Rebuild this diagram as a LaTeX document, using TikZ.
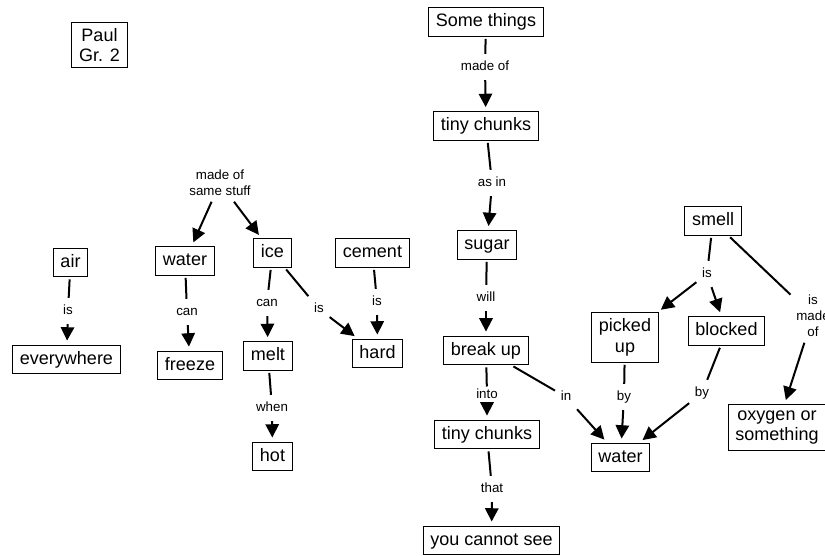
\documentclass[tikz,border=0pt]{standalone}
\usepackage{fontspec}
\setmainfont{Liberation Sans}
\usetikzlibrary{arrows.meta}

\tikzset{every picture/.style={line width=0.75pt}}
\tikzset{
  box/.style={draw, line width=0.8pt, font=\fontsize{13.5}{15.5}\selectfont, inner xsep=5.5pt, inner ysep=4.5pt},
  word/.style={box, text height=9.8pt, text depth=2.8pt},
  boxstack/.style={box, align=center},
  linkbase/.style={font=\fontsize{10}{12}\selectfont, inner xsep=4pt},
  link/.style={linkbase, text height=7pt, text depth=2pt, inner ysep=5pt},
  linkstack/.style={linkbase, align=center, inner ysep=4pt},
  tie/.style={line width=1.5pt, shorten <=1.5pt},
  lead/.style={line width=1.5pt, -{Triangle[length=10pt,width=10pt]}, shorten >=3pt},
}

\begin{document}
\begin{tikzpicture}[x=0.75pt,y=0.75pt,yscale=-1,xscale=1]

\useasboundingbox (0,0) rectangle (825,556);
\clip (0,0) rectangle (825,556);

% concepts
\draw (99.5,45) node [boxstack] (paul) {Paul\\Gr. 2};
\draw (70.5,262.5) node [word] (air) {air};
\draw (66.5,359.5) node [word] (everywhere) {everywhere};
\draw (185,261) node [word] (water) {water};
\draw (190,365.5) node [word] (freeze) {freeze};
\draw (272.5,253) node [word] (ice) {ice};
\draw (268,356) node [word] (melt) {melt};
\draw (272.5,456.5) node [word] (hot) {hot};
\draw (372.5,253) node [word] (cement) {cement};
\draw (377.5,353.5) node [word] (hard) {hard};
\draw (486,22) node [word] (things) {Some things};
\draw (486,126) node [word] (chunks) {tiny chunks};
\draw (487,245) node [word] (sugar) {sugar};
\draw (486,350.5) node [word] (breakup) {break up};
\draw (487,434.5) node [word] (bits) {tiny chunks};
\draw (491.5,540.5) node [word] (unseen) {you cannot see};
\draw (713,221) node [word] (smell) {smell};
\draw (625,337.5) node [boxstack] (pickedup) {picked\\up};
\draw (726.5,331) node [word] (blocked) {blocked};
\draw (620.5,457.5) node [word] (liquid) {water};
\draw (777,427.5) node [boxstack] (oxygen) {oxygen or\\something};

% linking words
\draw (220,183) node [linkstack] (same) {made of\\same stuff};
\draw (68,311) node [link] (airis) {is};
\draw (187,312) node [link] (watercan) {can};
\draw (267,303) node [link] (icecan) {can};
\draw (319,309) node [link] (iceis) {is};
\draw (377,302) node [link] (cementis) {is};
\draw (272,408) node [link] (when) {when};
\draw (485,67) node [link] (madeof) {made of};
\draw (492,183) node [link] (asin) {as in};
\draw (486,298) node [link] (will) {will};
\draw (487,395) node [link, inner ysep=1.5pt] (into) {into};
\draw (492,489) node [link] (that) {that};
\draw (566,397) node [link] (inwater) {in};
\draw (707,274) node [link] (smellis) {is};
\draw (624,397) node [link] (byup) {by};
\draw (702,393) node [link] (byblock) {by};
\draw (813,316) node [linkstack] (ismadeof) {is\\made\\of};

% connectors
\draw [lead] (same) -- (water);
\draw [lead] (same) -- (ice);
\draw [tie] (air) -- (airis);
\draw [lead] (airis) -- (everywhere);
\draw [tie] (water) -- (watercan);
\draw [lead] (watercan) -- (freeze);
\draw [tie] (ice) -- (icecan);
\draw [lead] (icecan) -- (melt);
\draw [tie] (ice) -- (iceis);
\draw [lead] (iceis) -- (hard);
\draw [tie] (cement) -- (cementis);
\draw [lead] (cementis) -- (hard);
\draw [tie] (melt) -- (when);
\draw [lead] (when) -- (hot);
\draw [tie] (things) -- (madeof);
\draw [lead] (madeof) -- (chunks);
\draw [tie] (chunks) -- (asin);
\draw [lead] (asin) -- (sugar);
\draw [tie] (sugar) -- (will);
\draw [lead] (will) -- (breakup);
\draw [tie] (breakup) -- (into);
\draw [lead] (into) -- (bits);
\draw [tie] (bits) -- (that);
\draw [lead] (that) -- (unseen);
\draw [tie] (breakup) -- (inwater);
\draw [lead] (inwater) -- (liquid);
\draw [tie] (smell) -- (smellis);
\draw [lead] (smellis) -- (pickedup);
\draw [lead] (smellis) -- (blocked);
\draw [tie] (pickedup) -- (byup);
\draw [lead] (byup) -- (liquid);
\draw [tie] (blocked) -- (byblock);
\draw [lead] (byblock) -- (liquid);
\draw [tie] (smell) -- (ismadeof);
\draw [lead] (ismadeof) -- (oxygen);

\end{tikzpicture}
\end{document}
